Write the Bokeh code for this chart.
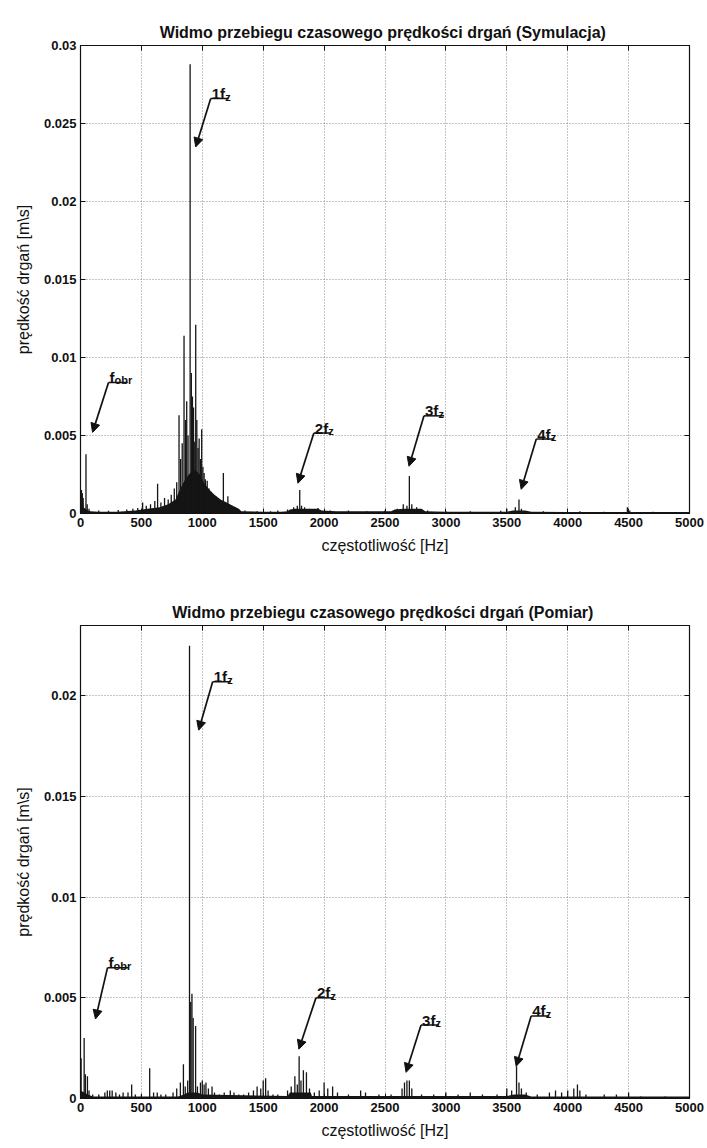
from bokeh.plotting import figure
from bokeh.models import Arrow, NormalHead, FixedTicker, LinearAxis, Range1d
from bokeh.layouts import column
from bokeh.core.properties import value
from bokeh.embed import file_html
from bokeh.resources import INLINE

FONT = "Liberation Sans"

# ---------------- axis ticks ----------------
x_ticks = [0, 500, 1000, 1500, 2000, 2500, 3000, 3500, 4000, 4500, 5000]
x_tick_labels = ["0", "500", "1000", "1500", "2000", "2500", "3000", "3500", "4000", "4500", "5000"]

sim_y_ticks = [0, 0.005, 0.01, 0.015, 0.02, 0.025, 0.03]
sim_y_tick_labels = ["0", "0.005", "0.01", "0.015", "0.02", "0.025", "0.03"]
meas_y_ticks = [0, 0.005, 0.01, 0.015, 0.02]
meas_y_tick_labels = ["0", "0.005", "0.01", "0.015", "0.02"]

# ---------------- Symulacja: spectral lines ----------------
sim_spike_f = [8, 15, 22, 45, 55, 70, 150, 230, 310, 380,
               430, 470, 510, 540, 575, 610, 633, 660, 690, 720,
               745, 770, 790, 809, 822, 835, 850, 862, 872, 883,
               900, 910, 919, 928, 938, 946, 955, 965, 974, 985,
               995, 1005, 1015, 1025, 1040, 1055, 1070, 1090, 1110, 1130,
               1150, 1173, 1190, 1210, 1240, 1270, 1350, 1450, 1560, 1620,
               1700, 1750, 1780, 1800, 1815, 1840, 1880, 1950, 2050, 2200,
               2350, 2500, 2600, 2650, 2680, 2700, 2720, 2760, 2850, 3000,
               3200, 3450, 3500, 3570, 3600, 3620, 3800, 4100, 4300, 4490,
               4510, 4700, 4900]
sim_spike_a = [0.0015, 0.0013, 0.0010, 0.0038, 0.0006, 0.0003, 0.0002, 0.00018, 0.00022, 0.00025,
               0.0003, 0.00035, 0.0007, 0.0005, 0.0006, 0.0008, 0.0019, 0.0007, 0.0010, 0.0009,
               0.0012, 0.0016, 0.0020, 0.0063, 0.0035, 0.0045, 0.0114, 0.0060, 0.0072, 0.0050,
               0.0288, 0.0090, 0.0075, 0.0068, 0.0046, 0.0121, 0.0060, 0.0042, 0.0048, 0.0035,
               0.0054, 0.0030, 0.0026, 0.0022, 0.0021, 0.0016, 0.0014, 0.0012, 0.0011, 0.0009,
               0.0008, 0.0026, 0.0007, 0.0011, 0.0005, 0.0004, 0.0002, 0.00015, 0.00015, 0.0002,
               0.00025, 0.0004, 0.0005, 0.0015, 0.0005, 0.0004, 0.0003, 0.00035, 0.0002, 0.0002,
               0.00015, 0.0002, 0.0003, 0.0006, 0.0005, 0.0024, 0.0006, 0.0004, 0.0002, 0.00015,
               0.00015, 0.00018, 0.0003, 0.0004, 0.0009, 0.0003, 0.00015, 0.00015, 0.00012, 0.0004,
               0.0002, 0.00012, 0.0001]

# dense noise band (envelope)
sim_floor_f = [0, 12, 25, 40, 60, 80, 150, 300, 450, 550,
               650, 720, 780, 820, 860, 900, 940, 980, 1020, 1060,
               1100, 1150, 1200, 1250, 1300, 1320, 1500, 1650, 1700, 1720,
               1760, 1850, 1950, 1980, 2100, 2400, 2550, 2580, 2650, 2750,
               2800, 2830, 3000, 3500, 3550, 3650, 3700, 4000, 4500, 5000]
sim_floor_a = [0.0012, 0.0012, 0.0004, 0.0003, 0.0002, 0.00015, 0.00012, 0.00012, 0.0002, 0.0003,
               0.0004, 0.0006, 0.0009, 0.0016, 0.0022, 0.0026, 0.0028, 0.0025, 0.0019, 0.0015,
               0.0012, 0.0009, 0.0007, 0.0005, 0.0003, 0.00015, 0.00012, 0.00012, 0.00015, 0.00025,
               0.0003, 0.0003, 0.0003, 0.0002, 0.00015, 0.00015, 0.00015, 0.00025, 0.0003, 0.0003,
               0.0003, 0.00015, 0.00012, 0.00012, 0.0002, 0.0002, 0.00012, 0.0001, 0.0001, 0.0001]

# ---------------- Pomiar: spectral lines ----------------
meas_spike_f = [5, 30, 40, 57, 70, 100, 150, 200, 220, 240,
                260, 290, 320, 350, 390, 420, 450, 500, 568, 600,
                630, 660, 700, 760, 790, 820, 845, 860, 880, 895,
                905, 915, 925, 945, 960, 985, 1000, 1015, 1030, 1050,
                1080, 1100, 1140, 1180, 1230, 1260, 1300, 1340, 1380, 1420,
                1450, 1480, 1500, 1520, 1540, 1580, 1620, 1700, 1730, 1760,
                1780, 1795, 1810, 1830, 1855, 1880, 1920, 1960, 2000, 2030,
                2070, 2110, 2200, 2300, 2340, 2450, 2550, 2640, 2660, 2680,
                2700, 2720, 2800, 2900, 3000, 3100, 3200, 3300, 3420, 3500,
                3540, 3580, 3600, 3620, 3660, 3750, 3850, 3900, 3950, 4000,
                4050, 4080, 4100, 4150, 4300, 4400, 4500, 4600, 4800]
meas_spike_a = [0.0020, 0.0030, 0.0012, 0.0011, 0.0004, 0.0002, 0.0002, 0.0003, 0.0004, 0.0004,
                0.0004, 0.0003, 0.0002, 0.0003, 0.0003, 0.0007, 0.0002, 0.0002, 0.0015, 0.0003,
                0.0003, 0.0002, 0.0002, 0.0003, 0.0005, 0.0008, 0.0017, 0.0006, 0.0009, 0.0225,
                0.0048, 0.0052, 0.0040, 0.0036, 0.0006, 0.0008, 0.0009, 0.0007, 0.0008, 0.0005,
                0.0006, 0.0003, 0.0002, 0.0003, 0.0004, 0.0003, 0.0002, 0.0002, 0.0003, 0.0004,
                0.0006, 0.0005, 0.0009, 0.0010, 0.0004, 0.0002, 0.0002, 0.0004, 0.0006, 0.0011,
                0.0007, 0.0021, 0.0009, 0.0014, 0.0013, 0.0005, 0.0003, 0.0004, 0.0008, 0.0005,
                0.0006, 0.0003, 0.0002, 0.0004, 0.0003, 0.0002, 0.0002, 0.0005, 0.0008, 0.0009,
                0.0009, 0.0005, 0.0002, 0.0002, 0.0003, 0.0002, 0.0003, 0.0002, 0.0002, 0.0005,
                0.0004, 0.0016, 0.0008, 0.0005, 0.0003, 0.0002, 0.0003, 0.0004, 0.0003, 0.0004,
                0.0005, 0.0007, 0.0004, 0.0002, 0.0002, 0.0002, 0.0003, 0.0001, 0.0001]

meas_floor_f = [0, 60, 100, 800, 850, 880, 960, 1000, 1700, 1720,
                1890, 1900, 3500, 3560, 3650, 3700, 5000]
meas_floor_a = [0.0004, 0.0002, 0.0001, 0.0001, 0.0002, 0.0003, 0.0003, 0.0002, 0.00012, 0.0003,
                0.0003, 0.00012, 0.00012, 0.0002, 0.0002, 0.0001, 0.0001]

# annotations: main text, subscript, bar x0, bar x1, bar y, arrow tip x, arrow tip y
sim_notes = [
    ("f", "obr", 230, 387, 0.0084, 99, 0.0052),
    ("1f", "z", 1069, 1217, 0.0266, 946, 0.0235),
    ("2f", "z", 1916, 2056, 0.00516, 1785, 0.00194),
    ("3f", "z", 2820, 2985, 0.00626, 2697, 0.00303),
    ("4f", "z", 3742, 3890, 0.00477, 3618, 0.00155),
]
meas_notes = [
    ("f", "obr", 222, 395, 0.0065, 123, 0.00395),
    ("1f", "z", 1085, 1234, 0.0207, 970, 0.0183),
    ("2f", "z", 1933, 2080, 0.0050, 1793, 0.00245),
    ("3f", "z", 2796, 2944, 0.00365, 2673, 0.0013),
    ("4f", "z", 3700, 3849, 0.0041, 3577, 0.0016),
]

INK = "#111111"


def make_plot(title, spike_f, spike_a, floor_f, floor_a, y_max, y_ticks, y_labels,
              notes, height, b_top, b_bottom):
    p = figure(width=707, height=height, output_backend="svg", toolbar_location=None,
               x_range=Range1d(0, 5000), y_range=Range1d(0, y_max),
               min_border_left=80, min_border_right=18,
               min_border_top=b_top, min_border_bottom=b_bottom,
               background_fill_color="white", border_fill_color="white")
    p.title.text = title
    p.title.align = "center"
    p.title.text_font = FONT
    p.title.text_font_size = "16px"
    p.title.text_font_style = "bold"
    p.title.text_color = INK

    p.outline_line_color = INK
    p.outline_line_width = 1.2

    p.xaxis.ticker = FixedTicker(ticks=x_ticks)
    p.xaxis.major_label_overrides = dict(zip(x_ticks, x_tick_labels))
    p.yaxis.ticker = FixedTicker(ticks=y_ticks)
    p.yaxis.major_label_overrides = dict(zip(y_ticks, y_labels))
    for ax in (p.xaxis, p.yaxis):
        ax.major_tick_in = 5
        ax.major_tick_out = 0
        ax.minor_tick_line_color = None
        ax.axis_line_color = INK
        ax.major_tick_line_color = INK
        ax.major_label_text_font = FONT
        ax.major_label_text_font_size = "13px"
        ax.major_label_text_font_style = "bold"
        ax.major_label_text_color = INK
        ax.axis_label_text_font = FONT
        ax.axis_label_text_font_size = "16px"
        ax.axis_label_text_font_style = "normal"
        ax.axis_label_text_color = INK
    p.xaxis.axis_label = "częstotliwość [Hz]"
    p.yaxis.axis_label = "prędkość drgań [m\\s]"
    p.xaxis.major_label_standoff = 4
    p.xaxis.axis_label_standoff = 7
    p.yaxis.major_label_standoff = 4
    p.yaxis.axis_label_standoff = 9

    # tick marks on the right and top of the box (labels not drawn)
    ax_r = LinearAxis(ticker=FixedTicker(ticks=y_ticks), major_label_text_font_size="1px",
                      major_label_text_color=None,
                      major_tick_in=5, major_tick_out=0, minor_tick_line_color=None,
                      axis_line_color=INK, major_tick_line_color=INK, major_label_standoff=0)
    ax_t = LinearAxis(ticker=FixedTicker(ticks=x_ticks), major_label_text_font_size="1px",
                      major_label_text_color=None,
                      major_tick_in=5, major_tick_out=0, minor_tick_line_color=None,
                      axis_line_color=INK, major_tick_line_color=INK, major_label_standoff=0)
    p.add_layout(ax_r, "right")
    p.add_layout(ax_t, "above")

    for g in (p.xgrid, p.ygrid):
        g.grid_line_color = "#8a8a8a"
        g.grid_line_dash = "1 2"
        g.grid_line_width = 1

    # noise band and spectral lines
    p.varea(x=floor_f, y1=[0] * len(floor_f), y2=floor_a, fill_color="#151515")
    p.segment(x0=spike_f, y0=[0] * len(spike_f), x1=spike_f, y1=spike_a,
              line_color="#151515", line_width=1.3)

    # annotations
    for main, sub, bx0, bx1, by, tx, ty in notes:
        p.segment(x0=[bx0], y0=[by], x1=[bx1], y1=[by], line_color=INK, line_width=1.5)
        p.add_layout(Arrow(end=NormalHead(size=9, fill_color=INK, line_color=INK),
                           x_start=bx0, y_start=by, x_end=tx, y_end=ty,
                           line_color=INK, line_width=1.7))
        main_w = 13.5 if len(main) == 2 else 5.0
        p.text(x=[bx0], y=[by], text=[main], x_offset=1, y_offset=-5,
               text_font=value(FONT), text_font_size="15px", text_font_style="bold",
               text_color=INK, text_baseline="alphabetic", text_align="left")
        p.text(x=[bx0], y=[by], text=[sub], x_offset=1 + main_w, y_offset=-2,
               text_font=value(FONT), text_font_size="11px", text_font_style="bold",
               text_color=INK, text_baseline="alphabetic", text_align="left")
    return p


p1 = make_plot("Widmo przebiegu czasowego prędkości drgań  (Symulacja)",
               sim_spike_f, sim_spike_a, sim_floor_f, sim_floor_a, 0.03,
               sim_y_ticks, sim_y_tick_labels, sim_notes, 576, 45, 63)
p2 = make_plot("Widmo przebiegu czasowego prędkości drgań  (Pomiar)",
               meas_spike_f, meas_spike_a, meas_floor_f, meas_floor_a, 0.0235,
               meas_y_ticks, meas_y_tick_labels, meas_notes, 572, 49, 50)

layout = column(p1, p2, spacing=0)
open("out.html", "w").write(file_html(layout, INLINE))
